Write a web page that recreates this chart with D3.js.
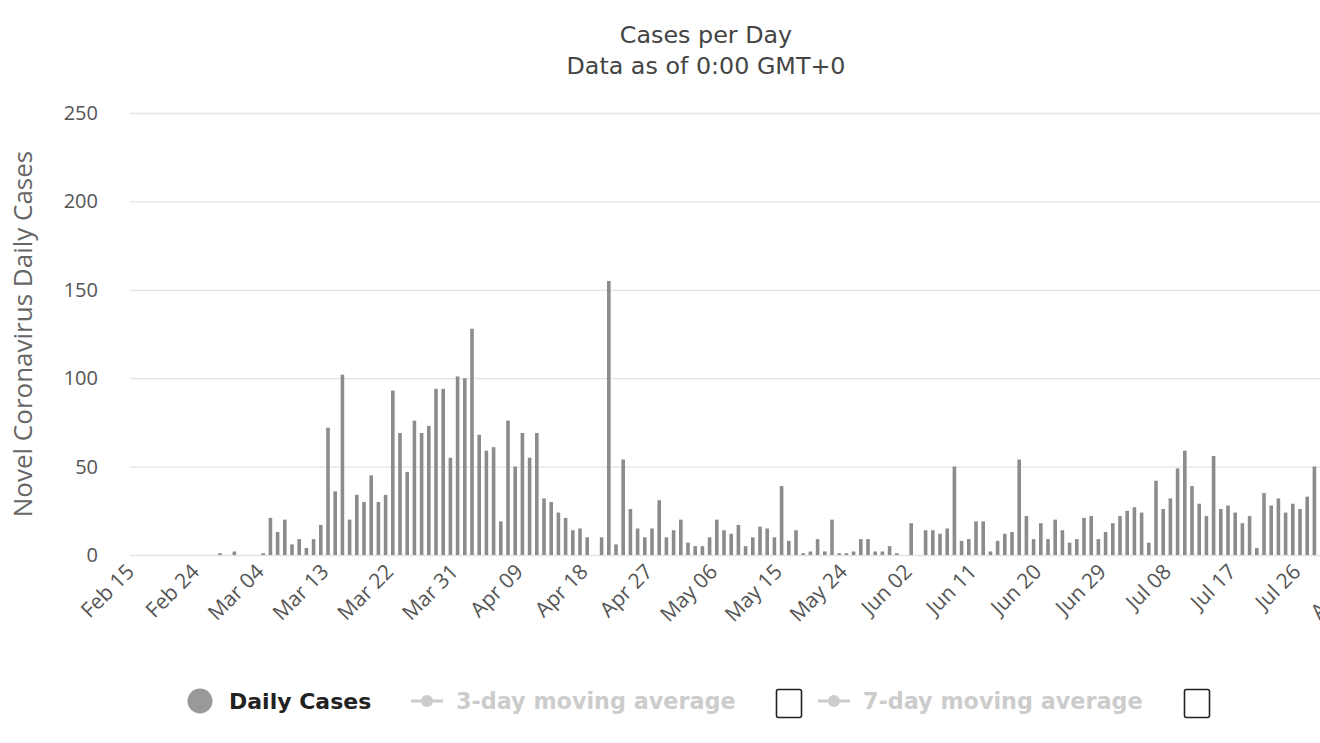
<!DOCTYPE html>
<html>
<head>
<meta charset="utf-8">
<script src="https://cdn.jsdelivr.net/npm/d3@7"></script>
<style>
  html, body { margin: 0; padding: 0; background: #fff; overflow: hidden; }
  svg { display: block; }
</style>
</head>
<body>
<svg id="chart" width="1320" height="743"></svg>
<script>
// ---------------- data ----------------
const startDate = "2020-02-15";
const endDate = "2020-08-05"; // exclusive; last category Aug 04 (label partly off-screen)

const dailyCases = [
  0,0,0,0,0,0,0,0,0,0,0,0,1,0,2,0,0,0,1,21,
  13,20,6,9,4,9,17,72,36,102,20,34,30,45,30,34,93,69,47,76,
  69,73,94,94,55,101,100,128,68,59,61,19,76,50,69,55,69,32,30,24,
  21,14,15,10,0,10,155,6,54,26,15,10,15,31,10,14,20,7,5,5,
  10,20,14,12,17,5,10,16,15,10,39,8,14,1,2,9,2,20,1,1,
  2,9,9,2,2,5,1,0,18,0,14,14,12,15,50,8,9,19,19,2,
  8,12,13,54,22,9,18,9,20,14,7,9,21,22,9,13,18,22,25,27,
  24,7,42,26,32,49,59,39,29,22,56,26,28,24,18,22,4,35,28,32,
  24,29,26,33,50
];

const tickLabels = ["Feb 15","Feb 24","Mar 04","Mar 13","Mar 22","Mar 31","Apr 09","Apr 18",
  "Apr 27","May 06","May 15","May 24","Jun 02","Jun 11","Jun 20","Jun 29","Jul 08","Jul 17",
  "Jul 26","Aug 04"];

const yTicks = [0, 50, 100, 150, 200, 250];

const titleText = "Cases per Day";
const subtitleText = "Data as of 0:00 GMT+0";
const yAxisTitle = "Novel Coronavirus Daily Cases";
const legendItems = ["Daily Cases", "3-day moving average", "7-day moving average"];

// ---------------- layout ----------------
const fmt = d3.utcFormat("%b %d");
const parse = d3.utcParse("%Y-%m-%d");
const categories = d3.utcDay.range(parse(startDate), parse(endDate)).map(fmt);

const step = 7.2;
const plotLeft = 130, plotTop = 113, plotBottom = 555;
const plotRight = plotLeft + step * categories.length;

const svg = d3.select("#chart");

const x = d3.scaleBand().domain(categories).range([plotLeft, plotRight]).paddingInner(0.5).paddingOuter(0.25);
const y = d3.scaleLinear().domain([0, 250]).range([plotBottom, plotTop]);

// title
svg.append("text").attr("x", 706).attr("y", 43).attr("text-anchor", "middle")
  .attr("font-family", "DejaVu Sans").attr("font-size", 23.8).attr("fill", "#444")
  .text(titleText);
svg.append("text").attr("x", 706).attr("y", 74).attr("text-anchor", "middle")
  .attr("font-family", "DejaVu Sans").attr("font-size", 23.8).attr("fill", "#444")
  .text(subtitleText);

// y axis (gridlines + labels)
const yAxis = d3.axisLeft(y).tickValues(yTicks).tickSize(-(plotRight - plotLeft)).tickPadding(32);
const gy = svg.append("g").attr("transform", `translate(${plotLeft},0)`).call(yAxis);
gy.select(".domain").remove();
gy.selectAll(".tick line").attr("stroke", "#e3e3e3").attr("stroke-width", 1.3);
gy.selectAll(".tick text").attr("font-family", "Open Sans").attr("font-size", 20)
  .attr("fill", "#555");

// y axis title
svg.append("text")
  .attr("transform", "translate(32,334) rotate(-90)")
  .attr("text-anchor", "middle")
  .attr("font-family", "Open Sans").attr("font-size", 26).attr("fill", "#666")
  .text(yAxisTitle);

// bars
svg.append("g").selectAll("rect").data(dailyCases.map((v, i) => ({cat: categories[i], v})))
  .join("rect")
  .attr("x", d => x(d.cat))
  .attr("width", x.bandwidth())
  .attr("y", d => y(d.v))
  .attr("height", d => y(0) - y(d.v))
  .attr("fill", "#8c8c8c");

// x axis labels
const xAxis = d3.axisBottom(x).tickValues(tickLabels).tickSize(0).tickPadding(0);
const gx = svg.append("g").attr("transform", `translate(0,${plotBottom})`).call(xAxis);
gx.select(".domain").remove();
gx.selectAll(".tick text")
  .attr("font-family", "Open Sans").attr("font-size", 21).attr("fill", "#555")
  .attr("text-anchor", "end")
  .attr("dy", 0)
  .attr("transform", "translate(2,18) rotate(-45)");

// legend
const lg = svg.append("g");
lg.append("circle").attr("cx", 200).attr("cy", 701).attr("r", 12.5).attr("fill", "#999");
lg.append("text").attr("x", 229).attr("y", 709).attr("font-family", "DejaVu Sans")
  .attr("font-weight", "bold").attr("font-size", 22).attr("fill", "#222").text(legendItems[0]);

function lineSymbol(x0) {
  lg.append("line").attr("x1", x0).attr("x2", x0 + 32).attr("y1", 701).attr("y2", 701)
    .attr("stroke", "#ccc").attr("stroke-width", 3);
  lg.append("circle").attr("cx", x0 + 16).attr("cy", 701).attr("r", 6).attr("fill", "#ccc");
}
lineSymbol(411);
lg.append("text").attr("x", 456).attr("y", 709).attr("font-family", "DejaVu Sans")
  .attr("font-weight", "bold").attr("font-size", 22.3).attr("fill", "#ccc").text(legendItems[1]);
lg.append("rect").attr("x", 776.5).attr("y", 689.5).attr("width", 25).attr("height", 28)
  .attr("rx", 2).attr("fill", "#fff").attr("stroke", "#222").attr("stroke-width", 1.6);

lineSymbol(818);
lg.append("text").attr("x", 863).attr("y", 709).attr("font-family", "DejaVu Sans")
  .attr("font-weight", "bold").attr("font-size", 22.3).attr("fill", "#ccc").text(legendItems[2]);
lg.append("rect").attr("x", 1184.5).attr("y", 689.5).attr("width", 25).attr("height", 28)
  .attr("rx", 2).attr("fill", "#fff").attr("stroke", "#222").attr("stroke-width", 1.6);
</script>
</body>
</html>
